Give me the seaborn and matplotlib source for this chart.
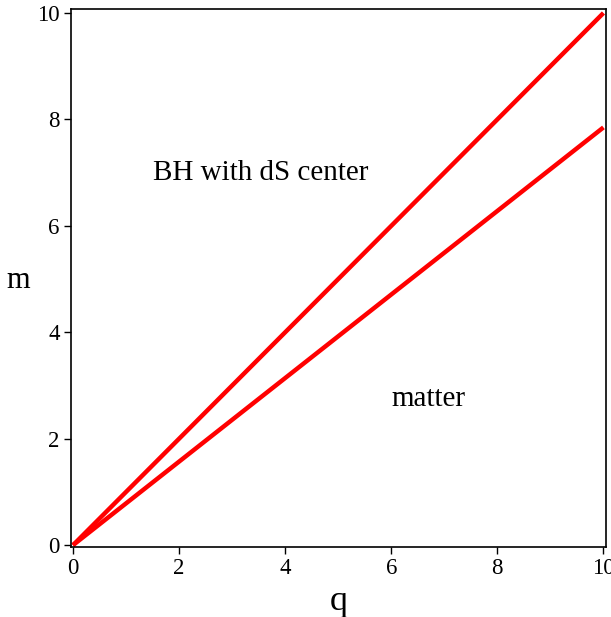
import numpy as np
import pandas as pd
import seaborn as sns
import matplotlib
matplotlib.use("Agg")
import matplotlib.pyplot as plt

# Boundary lines in the (q, m) plane
q_vals = [0.0, 10.0]
m_upper = [0.0, 10.0]      # m = q
m_lower = [0.0, 7.85]      # m = (pi/4) q

x_ticks = [0, 2, 4, 6, 8, 10]
y_ticks = [0, 2, 4, 6, 8, 10]

region_labels = ["BH with dS center", "matter"]
region_pos = [(1.5, 7.0), (6.0, 2.75)]

sns.set_style("ticks")
plt.rcParams["font.family"] = ["Liberation Serif", "DejaVu Serif"]
plt.rcParams["text.color"] = "black"
plt.rcParams["axes.labelcolor"] = "black"
plt.rcParams["xtick.color"] = "black"
plt.rcParams["ytick.color"] = "black"

fig = plt.figure(figsize=(6.11, 6.17), dpi=100)
ax = fig.add_axes([0.116, 0.113, 0.876, 0.872])

df = pd.DataFrame({
    "q": q_vals * 2,
    "m": m_upper + m_lower,
    "curve": ["upper"] * 2 + ["lower"] * 2,
})
sns.lineplot(data=df, x="q", y="m", hue="curve", palette=["#ff0000", "#ff0000"],
             linewidth=3.2, legend=False, ax=ax, solid_capstyle="butt")

ax.set_xlim(-0.04, 10.05)
ax.set_ylim(-0.04, 10.07)
ax.set_xticks(x_ticks)
ax.set_yticks(y_ticks)
ax.tick_params(direction="out", length=5, width=1, labelsize=16.5, colors="black",
               top=False, right=False, pad=3)
for s in ax.spines.values():
    s.set_linewidth(1.2)
    s.set_color("black")

ax.set_xlabel("q", fontsize=26, labelpad=4)
ax.set_ylabel("m", fontsize=22, rotation=0, ha="center", va="center")
ax.yaxis.set_label_coords(-0.099, 0.495)

for txt, (x, y) in zip(region_labels, region_pos):
    ax.text(x, y, txt, fontsize=21, ha="left", va="center", color="black")

fig.savefig("out.png", dpi=100)
